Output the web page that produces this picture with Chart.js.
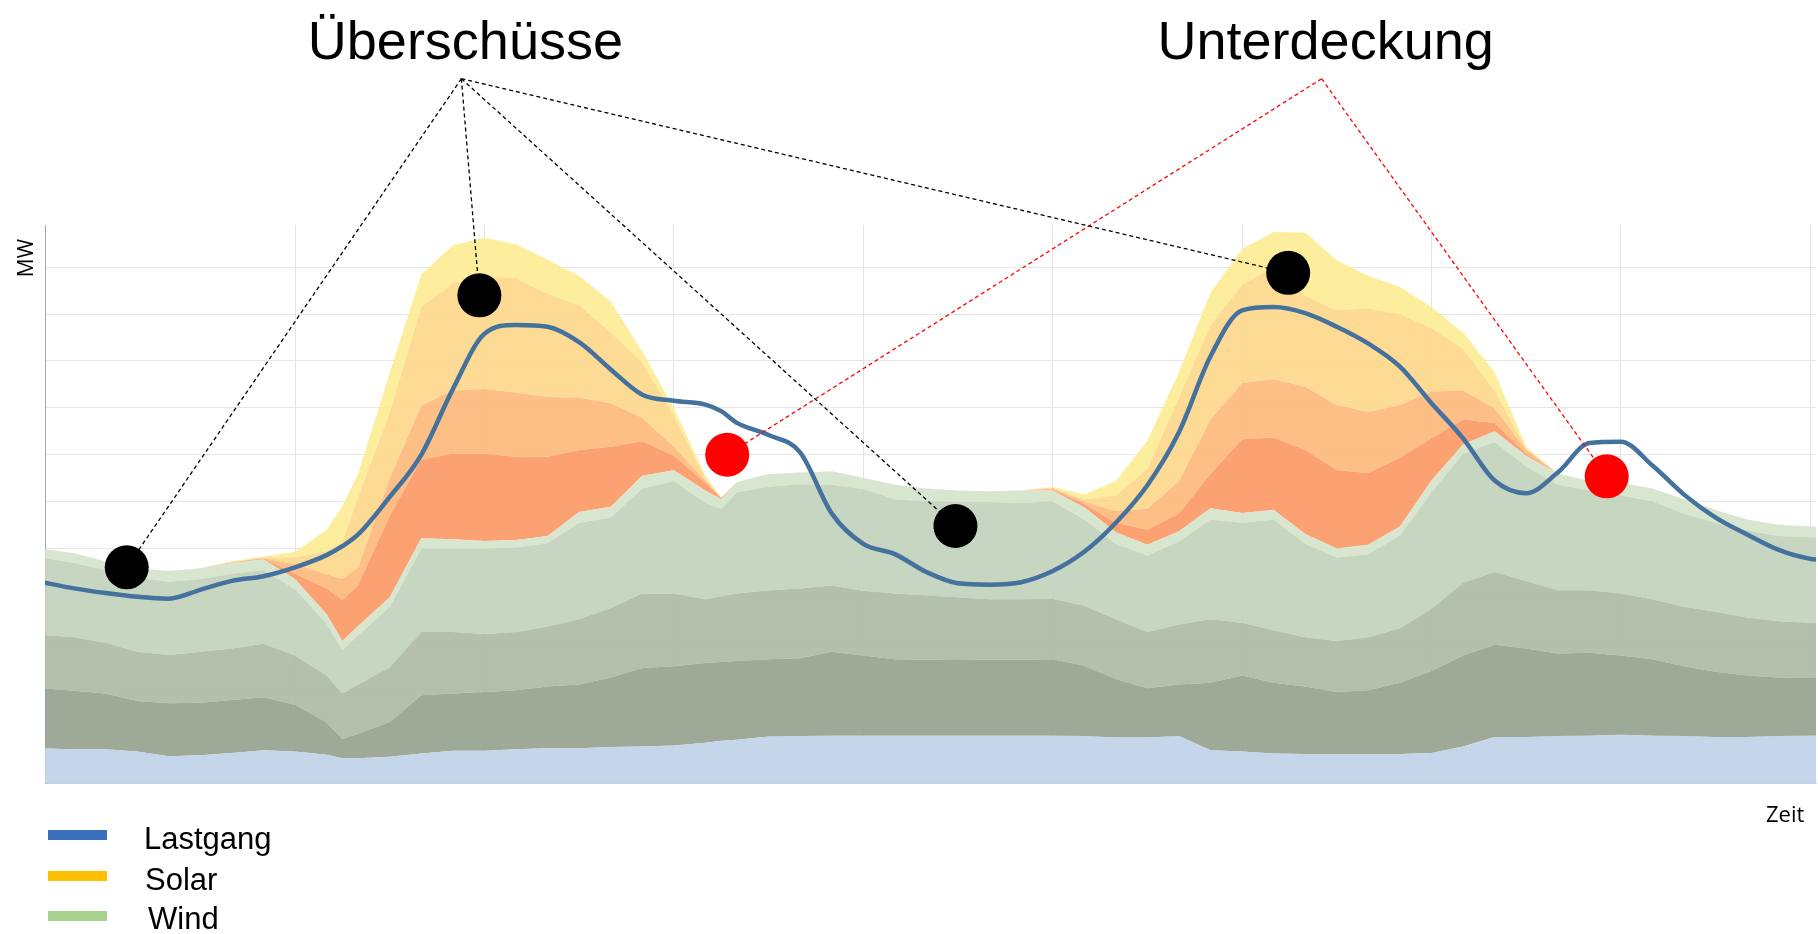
<!DOCTYPE html>
<html><head><meta charset="utf-8">
<script src="https://cdn.jsdelivr.net/npm/chart.js@4.4.1/dist/chart.umd.min.js"></script>
<style>html,body{margin:0;padding:0;background:#fff;overflow:hidden}#wrap{width:1818px;height:934px}</style>
</head><body><div id="wrap"><canvas id="c" width="1818" height="934"></canvas></div>
<script>
// Zeitachse (Stunden, Gitterlinie alle 6 h)
const zeit = [-8,-7,-6,-5,-4,-3,-2,-1,0,1, 1.5, 2,3,4,5,6,7,8,9,10,11,12,13, 13.5, 14,15,16,17,18,19,20,21,22,23, 24,25,26,27,28,29,30,31,32,33, 34,35,36,37,38,39,40,41,42,43, 44,45,46,47,48,49];

// Obergrenzen der gestapelten Flächen (MW, kumuliert)
const sockel = [0.74,0.72,0.72,0.67,0.57,0.59,0.64,0.70,0.67,0.60, 0.53, 0.53,0.56,0.63,0.69,0.69,0.72,0.74,0.74,0.77,0.78,0.80,0.86, 0.90, 0.92,0.99,1.00,1.01,1.01,1.01,1.01,1.01,1.01,1.01, 1.01,1.00,0.97,0.97,1.00,0.70,0.67,0.63,0.62,0.62, 0.62,0.62,0.64,0.78,0.98,0.98,1.00,1.01,1.03,1.01, 1.00,0.98,0.98,1.00,1.01,1.01];
const grund1 = [2.02,1.97,1.91,1.75,1.70,1.71,1.77,1.83,1.67,1.29, 0.94, 1.05,1.30,1.87,1.91,1.94,1.98,2.06,2.10,2.25,2.45,2.49,2.56, 2.58, 2.60,2.64,2.66,2.80,2.72,2.64,2.63,2.64,2.63,2.63, 2.64,2.50,2.22,2.02,2.10,2.14,2.29,2.14,2.06,1.94, 1.98,2.14,2.39,2.72,2.95,2.87,2.76,2.78,2.72,2.64, 2.49,2.37,2.29,2.25,2.24,2.24];
const grund2 = [3.16,3.11,2.99,2.80,2.73,2.80,2.87,2.97,2.72,2.29, 1.91, 2.10,2.47,3.22,3.22,3.18,3.22,3.34,3.49,3.73,4.04,4.04,3.92, 3.98, 4.04,4.11,4.15,4.21,4.10,4.04,4.00,3.96,3.92,3.92, 3.93,3.78,3.49,3.22,3.38,3.49,3.42,3.26,3.11,3.03, 3.11,3.30,3.71,4.27,4.50,4.31,4.11,4.11,4.04,3.92, 3.76,3.65,3.53,3.45,3.42,3.42];
const wind1 = [4.81,4.69,4.54,4.38,4.29,4.35,4.46,4.54,4.13,3.40, 2.83, 3.15,3.76,5.00,5.00,5.00,5.02,5.12,5.55,5.66,6.28,6.44,5.97, 5.85, 6.20,6.32,6.37,6.36,6.27,6.05,6.01,5.99,5.99,5.97, 6.01,5.62,5.10,4.85,5.15,5.62,5.55,5.62,5.10,4.81, 4.88,5.28,6.20,7.02,7.27,6.75,6.36,6.24,6.13,6.01, 5.74,5.55,5.39,5.27,5.24,5.24];
const wind2 = [5.00,4.90,4.73,4.58,4.52,4.58,4.69,4.77,4.35,3.60, 3.03, 3.35,3.96,5.22,5.20,5.16,5.18,5.27,5.78,5.89,6.55,6.67,6.24, 6.05, 6.42,6.59,6.62,6.65,6.51,6.36,6.28,6.24,6.22,6.24, 6.24,5.88,5.35,5.08,5.37,5.86,5.76,5.82,5.31,5.00, 5.08,5.47,6.45,7.22,7.50,6.98,6.60,6.44,6.40,6.28, 6.05,5.82,5.62,5.51,5.47,5.47];
const solar1 = [5.00,4.90,4.73,4.58,4.52,4.58,4.70,4.79,4.46,4.15, 3.90, 4.22,5.70,6.90,7.02,7.02,6.96,6.96,7.10,7.17,7.29,6.98,6.40, 6.07, 6.42,6.59,6.62,6.65,6.51,6.36,6.28,6.24,6.22,6.24, 6.26,5.95,5.55,5.40,5.75,6.59,7.33,7.37,7.10,6.67, 6.61,6.94,7.35,7.75,7.68,7.02,6.60,6.44,6.40,6.28, 6.05,5.82,5.62,5.51,5.47,5.47];
const solar2 = [5.00,4.90,4.73,4.58,4.52,4.58,4.71,4.80,4.66,4.45, 4.35, 4.60,6.50,8.05,8.37,8.40,8.33,8.23,8.22,8.10,7.79,7.17,6.45, 6.08, 6.42,6.59,6.62,6.65,6.51,6.36,6.28,6.24,6.22,6.24, 6.28,6.00,5.80,5.85,6.44,7.75,8.53,8.61,8.45,8.06, 7.91,8.06,8.35,8.37,7.99,7.10,6.60,6.44,6.40,6.28, 6.05,5.82,5.62,5.51,5.47,5.47];
const solar3 = [5.00,4.90,4.73,4.58,4.52,4.58,4.72,4.81,4.81,4.95, 5.15, 6.10,7.90,10.15,10.66,10.81,10.77,10.43,10.19,9.61,8.97,7.83,6.50, 6.09, 6.42,6.59,6.62,6.65,6.51,6.36,6.28,6.24,6.22,6.24, 6.30,6.05,6.13,6.70,8.22,9.77,10.62,11.00,10.39,10.08, 10.12,10.00,9.70,9.26,8.37,7.13,6.60,6.44,6.40,6.28, 6.05,5.82,5.62,5.51,5.47,5.47];
const solar4 = [5.00,4.90,4.73,4.58,4.52,4.58,4.73,4.83,4.93,5.40, 5.90, 6.60,8.75,10.85,11.47,11.63,11.49,11.16,10.81,10.27,9.20,7.99,6.55, 6.10, 6.42,6.59,6.62,6.65,6.51,6.36,6.28,6.24,6.22,6.24, 6.32,6.15,6.44,7.30,8.76,10.46,11.39,11.75,11.74,11.15, 10.81,10.58,10.15,9.61,8.76,7.17,6.60,6.44,6.40,6.28, 6.05,5.82,5.62,5.51,5.47,5.47];

// Lastgang
const lastgang = [4.28,4.15,4.05,3.97,3.93,4.12,4.31,4.41,4.60,4.86, 5.05, 5.30,6.10,7.00,8.40,9.58,9.77,9.73,9.40,8.82,8.28,8.15,8.07, 7.93, 7.68,7.42,7.05,5.75,5.10,4.88,4.50,4.26,4.23,4.28, 4.52,4.93,5.55,6.35,7.48,9.10,10.08,10.15,10.02,9.73, 9.37,8.88,8.10,7.35,6.45,6.18,6.62,7.25,7.28,6.77, 6.15,5.66,5.30,4.97,4.78,4.74];

// Markierungen
const markerX = [-5.33, 5.84, 20.92, 31.46, 13.69, 41.55];
const markerY = [4.60, 10.40, 5.48, 10.88, 7.00, 6.54];
const markerGruppe = [0, 0, 0, 0, 1, 1];
const hinweisText = ['Überschüsse', 'Unterdeckung'];
const ankerX = [5.27, 32.52];
const ankerY = [15.02, 15.02];

// Legende
const legendeText = ['Lastgang', 'Solar', 'Wind'];
const legendeFarbe = ['#3a6fbb', '#ffc000', '#a9d18e'];

const flaechenFarben = [
  'rgba(191,208,232,0.9)', 'rgba(149,160,140,0.9)', 'rgba(172,185,163,0.9)',
  'rgba(192,209,185,0.9)', 'rgba(212,227,203,0.9)', 'rgba(252,151,98,0.9)',
  'rgba(253,184,121,0.9)', 'rgba(253,215,136,0.9)', 'rgba(253,236,147,0.9)'
];
const schichten = [sockel, grund1, grund2, wind1, wind2, solar1, solar2, solar3, solar4];
const gruppenFarbe = ['#000000', '#ff0000'];

const datasets = [];
schichten.forEach((arr, i) => {
  datasets.push({
    data: zeit.map((x, j) => ({x, y: arr[j]})),
    fill: i === 0 ? 'origin' : '-1',
    backgroundColor: flaechenFarben[i],
    borderColor: 'transparent', borderWidth: 0,
    pointRadius: 0, tension: 0, order: 10
  });
});
datasets.push({
  data: zeit.map((x, j) => ({x, y: lastgang[j]})),
  fill: false, borderColor: '#45719e', borderWidth: 4.5,
  cubicInterpolationMode: 'monotone', pointRadius: 0, order: 2,
  borderCapStyle: 'round', borderJoinStyle: 'round'
});
markerX.forEach((mx, k) => {
  const g = markerGruppe[k];
  datasets.push({
    data: [{x: ankerX[g], y: ankerY[g]}, {x: mx, y: markerY[k]}],
    fill: false, borderColor: gruppenFarbe[g], borderWidth: 1.3, borderDash: [4, 3],
    pointRadius: 0, tension: 0, order: 1, clip: false
  });
});
datasets.push({
  data: markerX.map((x, k) => ({x, y: markerY[k]})),
  showLine: false, fill: false, pointRadius: 22, pointBorderWidth: 0,
  pointBackgroundColor: markerGruppe.map(g => gruppenFarbe[g]),
  pointBorderColor: 'transparent', order: 0, clip: false
});

const textPlugin = {
  id: 'texte',
  afterDraw(chart) {
    const {ctx, scales: {x, y}} = chart;
    ctx.save();
    ctx.fillStyle = '#000';
    ctx.textBaseline = 'alphabetic';
    ctx.font = '54px "Liberation Sans", Arial, sans-serif';
    ctx.textAlign = 'center';
    hinweisText.forEach((t, i) => {
      ctx.fillText(t, x.getPixelForValue(ankerX[i]) + 4, y.getPixelForValue(ankerY[i]) - 20);
    });
    // Achsentitel
    ctx.font = '21px "Open Sans", sans-serif';
    ctx.save();
    ctx.translate(33, 258);
    ctx.rotate(-Math.PI / 2);
    ctx.textAlign = 'center';
    ctx.fillText('MW', 0, 0);
    ctx.restore();
    ctx.font = '22px "Open Sans", sans-serif';
    ctx.textAlign = 'left';
    ctx.fillText('Zeit', 1766, 822);
    // Legende
    const ly = [835, 876, 916];
    const tx = [144, 145, 148];
    const tb = [849, 890, 929];
    ctx.font = '31px "Liberation Sans", Arial, sans-serif';
    legendeText.forEach((t, i) => {
      ctx.fillStyle = legendeFarbe[i];
      ctx.fillRect(48, ly[i] - 5, 59, 10);
      ctx.fillStyle = '#000';
      ctx.fillText(t, tx[i], tb[i]);
    });
    ctx.restore();
  }
};

new Chart(document.getElementById('c'), {
  type: 'line',
  data: {datasets},
  options: {
    responsive: false, devicePixelRatio: 1, animation: false, events: [],
    layout: {autoPadding: false, padding: {left: 45, top: 225, right: 2, bottom: 151}},
    plugins: {legend: {display: false}, tooltip: {enabled: false}},
    scales: {
      x: {
        type: 'linear', min: -7.92, max: 48.18,
        ticks: {display: false, stepSize: 6, includeBounds: false},
        grid: {color: '#e3e3e3', lineWidth: 1, drawTicks: false},
        border: {color: '#c4d1e8', width: 1},
        afterBuildTicks: s => { s.ticks = s.ticks.filter(t => t.value >= 0 && Math.abs(t.value / 6 - Math.round(t.value / 6)) < 1e-6); }
      },
      y: {
        type: 'linear', min: 0, max: 11.9,
        ticks: {display: false, stepSize: 1, includeBounds: false},
        grid: {color: '#e6e6e6', lineWidth: 1, drawTicks: false},
        border: {color: '#a8a8a8', width: 1},
        afterBuildTicks: s => { s.ticks = s.ticks.filter(t => Number.isInteger(t.value) && t.value <= 11); }
      }
    }
  },
  plugins: [textPlugin]
});
</script></body></html>
